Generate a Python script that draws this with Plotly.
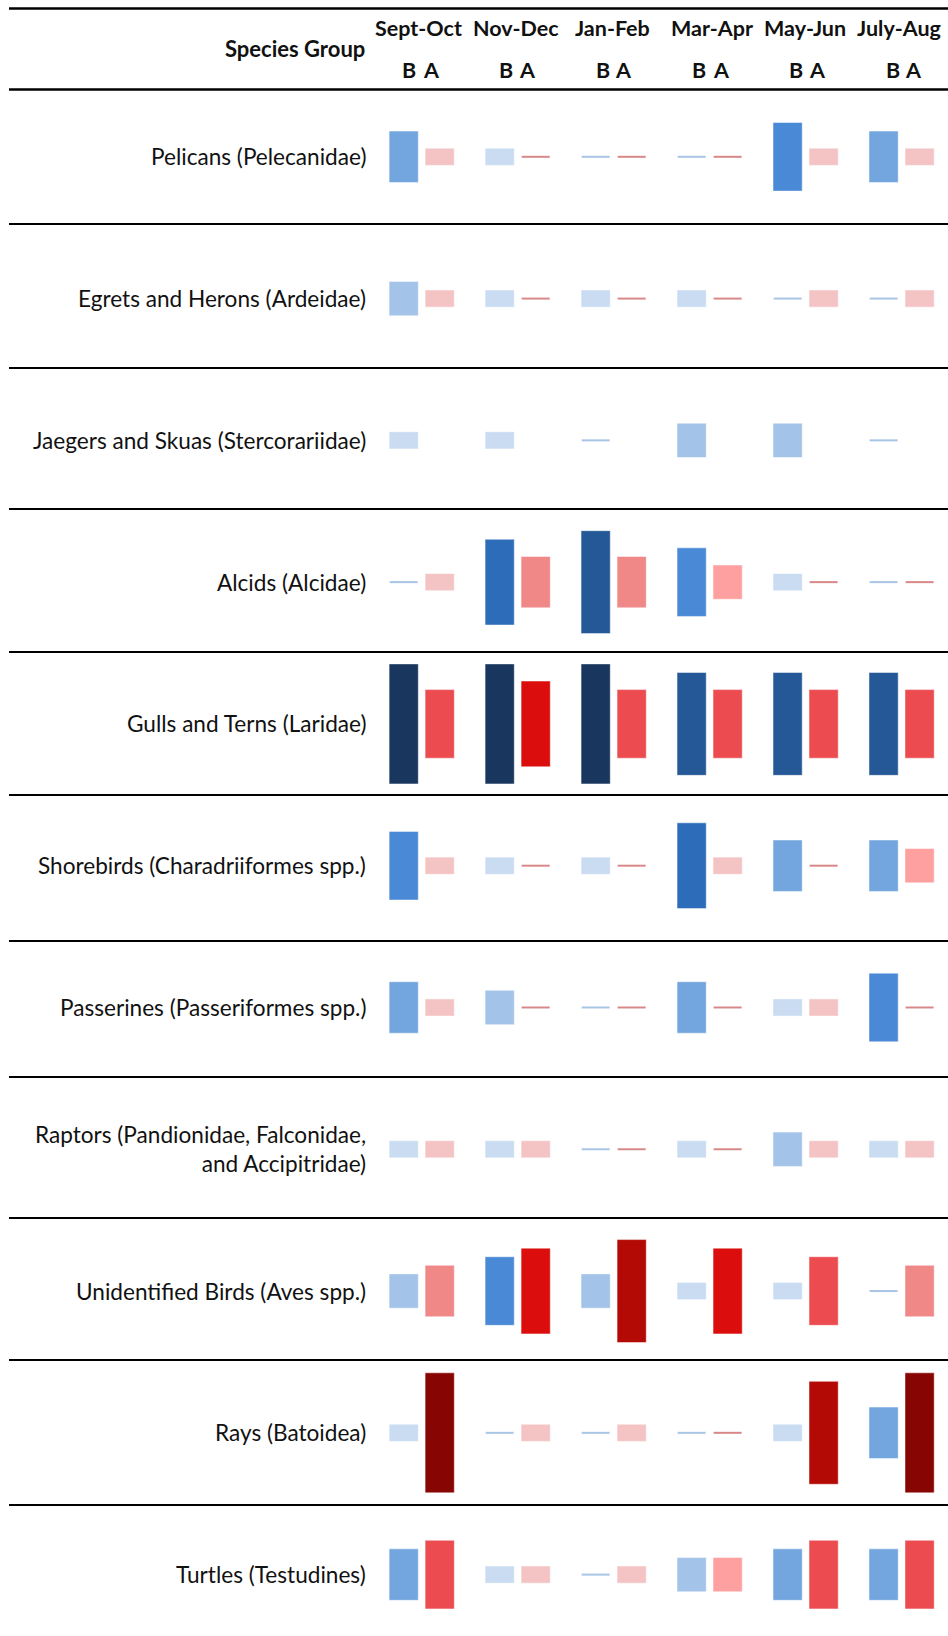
import plotly.graph_objects as go

# ---------------- data ----------------
species = [
    "Pelicans (Pelecanidae)",
    "Egrets and Herons (Ardeidae)",
    "Jaegers and Skuas (Stercorariidae)",
    "Alcids (Alcidae)",
    "Gulls and Terns (Laridae)",
    "Shorebirds (Charadriiformes spp.)",
    "Passerines (Passeriformes spp.)",
    "Raptors (Pandionidae, Falconidae,<br>and Accipitridae)",
    "Unidentified Birds (Aves spp.)",
    "Rays (Batoidea)",
    "Turtles (Testudines)",
]
periods = ["Sept-Oct", "Nov-Dec", "Jan-Feb", "Mar-Apr", "May-Jun", "July-Aug"]

# relative abundance class (0 = dash, None = no data), B = before, A = after
before = [
    [3, 1, 0, 0, 4, 3],
    [2, 1, 1, 1, 0, 0],
    [1, 1, 0, 2, 2, 0],
    [0, 5, 6, 4, 1, 0],
    [7, 7, 7, 6, 6, 6],
    [4, 1, 1, 5, 3, 3],
    [3, 2, 0, 3, 1, 4],
    [1, 1, 0, 1, 2, 1],
    [2, 4, 2, 1, 1, 0],
    [1, 0, 0, 0, 1, 3],
    [3, 1, 0, 2, 3, 3],
]
after = [
    [1, 0, 0, 0, 1, 1],
    [1, 0, 0, 0, 1, 1],
    [None, None, None, None, None, None],
    [1, 3, 3, 2, 0, 0],
    [4, 5, 4, 4, 4, 4],
    [1, 0, 0, 1, 0, 2],
    [1, 0, 0, 0, 1, 0],
    [1, 1, 0, 0, 1, 1],
    [3, 5, 6, 5, 4, 3],
    [7, 1, 1, 0, 6, 7],
    [4, 1, 1, 2, 4, 4],
]

# ---------------- styles ----------------
blues = {1: "#c9dcf2", 2: "#a3c3e9", 3: "#73a6de", 4: "#4a89d6",
         5: "#2d6cb9", 6: "#245896", 7: "#19375e"}
reds = {1: "#f4c4c4", 2: "#ffa0a0", 3: "#f08888", 4: "#ec4b4f",
        5: "#db0d0d", 6: "#b40a06", 7: "#870503"}
dash_blue = "#a9c5e6"
dash_red = "#d98888"

W, H = 948, 1636
ROW_PX, ROW0_PX = 141.78, 156.8
PER_PX, PER0_PX = 95.98, 421.7
LEVEL_PX = 17.15
lvl = LEVEL_PX / ROW_PX
half_off = 18.0 / PER_PX
bar_w = 29.2 / PER_PX

FONT = "Lato"
TXT = "#111111"

fig = go.Figure()

for side, data, pal, dcol, sgn in [("B", before, blues, dash_blue, -1),
                                    ("A", after, reds, dash_red, 1)]:
    bx, by, bb, bc = [], [], [], []
    dx, dy = [], []
    for i, row in enumerate(data):
        for p, v in enumerate(row):
            if v is None:
                continue
            x = p + sgn * half_off
            if v == 0:
                dx.append(x)
                dy.append(i)
            else:
                h = v * lvl
                bx.append(x)
                by.append(h)
                bb.append(i - h / 2)
                bc.append(pal[v])
    fig.add_trace(go.Bar(x=bx, y=by, base=bb, width=bar_w,
                         marker=dict(color=bc, line=dict(width=0.8, color="rgba(255,255,255,0.6)")),
                         showlegend=False, hoverinfo="skip"))
    fig.add_trace(go.Scatter(x=dx, y=dy, mode="markers",
                             marker=dict(symbol="line-ew", size=20,
                                         line=dict(width=2, color=dcol)),
                             showlegend=False, hoverinfo="skip"))

# row labels
for i, name in enumerate(species):
    fig.add_annotation(x=368 / W, xref="paper", y=i, yref="y", text=name,
                       xanchor="right", yanchor="middle", align="right",
                       showarrow=False, font=dict(family=FONT, size=22.6, color=TXT))

# header
def py(v):
    return 1 - v / H

fig.add_annotation(x=367 / W, xref="paper", y=py(49), yref="paper", text="Species Group",
                   xanchor="right", yanchor="middle", showarrow=False,
                   font=dict(family=FONT, size=22, color=TXT, weight="bold"))
period_px = [418.5, 515.5, 612, 712, 805, 899]
b_px = [409, 506, 602.5, 699, 796, 892.5]
a_px = [431.5, 527.5, 623.5, 721.5, 817.5, 913.5]
for p, name in enumerate(periods):
    fig.add_annotation(x=period_px[p] / W, xref="paper", y=py(28), yref="paper", text=name,
                       xanchor="center", yanchor="middle", showarrow=False,
                       font=dict(family=FONT, size=21.5, color=TXT, weight="bold"))
    for lab, xx in (("B", b_px[p]), ("A", a_px[p])):
        fig.add_annotation(x=xx / W, xref="paper", y=py(70), yref="paper", text=lab,
                           xanchor="center", yanchor="middle", showarrow=False,
                           font=dict(family=FONT, size=21.5, color=TXT, weight="bold"))

# separator lines
line_y = [8.5, 89.5, 224, 368, 509, 652, 795, 941, 1077, 1218, 1360, 1505]
for k, yy in enumerate(line_y):
    fig.add_shape(type="line", xref="paper", yref="paper", x0=9 / W, x1=1,
                  y0=py(yy), y1=py(yy), line=dict(color="black", width=2.5 if k < 2 else 2))

fig.update_layout(
    width=W, height=H, margin=dict(l=0, r=0, t=0, b=0),
    paper_bgcolor="white", plot_bgcolor="white", barmode="overlay",
    xaxis=dict(range=[-PER0_PX / PER_PX, (W - PER0_PX) / PER_PX], visible=False, fixedrange=True),
    yaxis=dict(range=[(H - ROW0_PX) / ROW_PX, -ROW0_PX / ROW_PX], visible=False, fixedrange=True),
)

fig.write_html(
    "out.html",
    config={"displayModeBar": False},
    post_script="document.body.style.margin='0';document.body.style.overflow='hidden';",
)
